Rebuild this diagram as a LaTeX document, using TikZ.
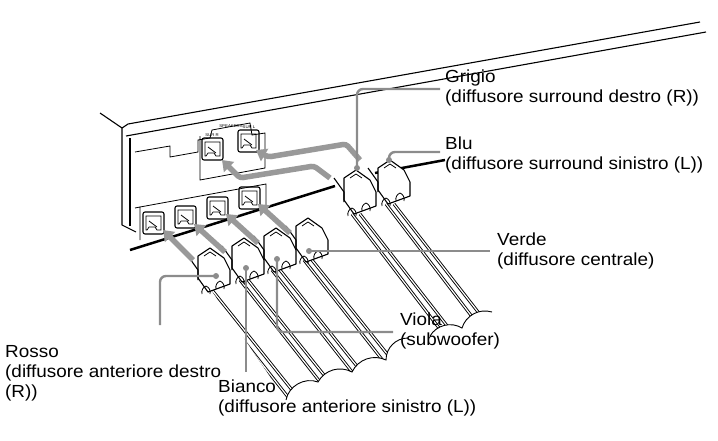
\documentclass[tikz,border=0pt]{standalone}
\usepackage{fontspec}
\setmainfont[FakeStretch=1.08]{Liberation Sans}
\usetikzlibrary{arrows.meta}
\tikzset{
  body/.style={line width=1.1pt, line join=round},
  lead/.style={draw=black!45, line width=2.4pt, rounded corners=6pt},
  push/.style={draw=black!40, line width=5.5pt, -{Triangle[length=10pt,width=14pt]}},
  lbl/.style={anchor=north west, align=left, inner sep=0pt, font=\fontsize{17.5}{20}\selectfont},
}
% jack on the panel
\newcommand{\jack}[2]{%
  \draw[body, rounded corners=2pt] (#1,#2) rectangle ++(21,22);
  \draw[line width=0.7pt] (#1+3,#2+4) -- ++(15,0) -- ++(0,14) -- ++(-4,0) -- ++(-2,-3) -- ++(-6,0) -- ++(-2,3) -- ++(-1,0) -- cycle;
  \draw[line width=0.8pt] (#1+6,#2+9) -- ++(8,6);
}
% plug with two wires
\newcommand{\plug}[2]{%
  \draw[body, fill=white] (#1-14,#2-18) -- ++(12,-8) -- ++(14,10) -- ++(6,12) -- ++(0,14) -- ++(-22,8) -- ++(-10,-14) -- cycle;
  \draw[body] (#1-14,#2+6) -- ++(0,-10) -- ++(-10,-14);
  \draw[line width=0.8pt] (#1-8,#2-18) -- ++(6,-4) -- ++(6,4);
  \draw[line width=0.8pt] (#1-10,#2+20) to[bend left=40] ++(4,-8) to[bend left=40] ++(4,8);
  \draw[line width=0.8pt] (#1+4,#2+15) to[bend left=40] ++(4,-8) to[bend left=40] ++(4,8);
}
\begin{document}
\begin{tikzpicture}[x=1pt, y=-1pt]
\useasboundingbox (0,0) rectangle (718,440);
% chassis
\draw[body] (100,113) -- (122,128) -- (122,225) -- (136,232);
\draw[body] (122,128) -- (128,124) -- (700,22);
\draw[body] (126,136) -- (706,32);
\draw[body] (130,138) -- (130,226);
\draw[line width=0.8pt] (135,152) -- (170,146) -- (170,157) -- (198,152) -- (198,140) -- (210,138) -- (212,130) -- (250,123) -- (252,135) -- (265,133) -- (265,168) -- (200,180) -- (200,136);
\node[font=\fontsize{4}{4}\selectfont, inner sep=0pt] (spk) at (231,126) {SPEAKERS};
\draw[line width=0.8pt] (135,208) -- (140,207) -- (140,240);
\draw[line width=0.8pt] (140,207) -- (266,184) -- (266,205);
% thick edge behind plugs
\draw[line width=2.5pt] (130,250) -- (335,186);
\draw[line width=2.5pt] (375,173) -- (445,160);
% jacks
\jack{202}{138} \jack{238}{130}
\jack{143}{212} \jack{175}{206} \jack{207}{197} \jack{239}{187}
\node[font=\fontsize{4}{4}\selectfont, inner sep=0pt] (surr) at (212,135) {SUR R};
\node[font=\fontsize{4}{4}\selectfont, inner sep=0pt] (surl) at (249,127) {SUR L};
% cables, cut along wavy ends
\begin{scope}
\clip (150,200) -- (286,400) to[bend left=50] (318,382) to[bend left=45] (352,372) to[bend left=45] (386,360) to[bend left=45] (408,338)
  -- (430,336) to[bend left=45] (462,328) to[bend left=45] (492,312) -- (540,200) -- cycle;
\foreach \sx/\sy/\ex/\ey in {204/290/306/420, 212/290/316/420, 240/280/346/415, 248/280/356/415,
  272/270/378/405, 280/270/388/405, 304/260/406/390, 312/260/416/390,
  352/214/452/345, 360/214/462/345, 386/204/486/335, 394/204/496/335}
  {\draw[line width=3pt] (\sx,\sy) -- (\ex,\ey);
   \draw[white, line width=1.2pt] (\sx,\sy) -- (\ex,\ey);}
\end{scope}
\draw[line width=0.9pt] (286,400) to[bend left=50] (318,382) to[bend left=45] (352,372) to[bend left=45] (386,360) to[bend left=45] (408,338);
\draw[line width=0.9pt] (430,336) to[bend left=45] (462,328) to[bend left=45] (492,312);
% plugs
\plug{358}{196} \plug{392}{186}
\plug{212}{274} \plug{246}{264} \plug{278}{254} \plug{310}{244}
% arrows
\draw[push] (193,260) -- (163,230);
\draw[push] (225,252) -- (194,224);
\draw[push] (258,243) -- (226,214);
\draw[push] (290,233) -- (258,204);
\draw[push, rounded corners=3pt] (330,178) -- (314,166) -- (240,178) -- (222,160);
\draw[push, rounded corners=3pt] (360,160) -- (346,144) -- (268,157) -- (256,150);
% leaders
\coordinate (dg) at (357,168);
\coordinate (db) at (389,160);
\coordinate (dv) at (309,251);
\coordinate (dvi) at (277,259);
\coordinate (dbi) at (246,268);
\coordinate (dr) at (216,276);
\node[lbl] (grigio) at (445,70) {Grigio\\(diffusore surround destro (R))};
\node[lbl] (blu) at (445,137) {Blu\\(diffusore surround sinistro (L))};
\node[lbl] (verde) at (497,233) {Verde\\(diffusore centrale)};
\node[lbl] (viola) at (400,313) {Viola\\(subwoofer)};
\node[lbl] (bianco) at (218,380) {Bianco\\(diffusore anteriore sinistro (L))};
\node[lbl] (rosso) at (5,345) {Rosso\\(diffusore anteriore destro\\(R))};
\draw[lead] (dg) |- (440,89);
\draw[lead] (db) |- (440,152);
\draw[lead] (dv) -- (490,251);
\draw[lead] (dvi) |- (393,332);
\draw[lead] (dbi) -- (246,372);
\draw[lead] (dr) -| (160,325);
\foreach \d in {dg,db,dv,dvi,dbi,dr}
  \fill[black!45] (\d) circle (3pt);
\end{tikzpicture}
\end{document}
